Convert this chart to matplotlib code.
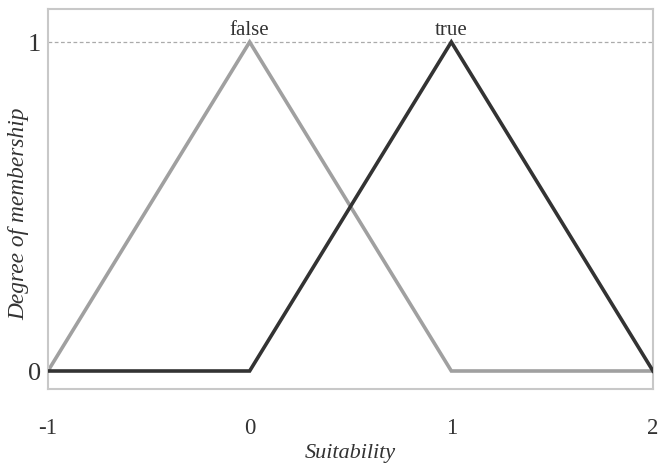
import matplotlib.pyplot as plt

# membership functions (x breakpoints, degree)
x_false = [-1, 0, 1, 2]
y_false = [0, 1, 0, 0]
x_true = [-1, 0, 1, 2]
y_true = [0, 0, 1, 0]
x_ticks = [-1, 0, 1, 2]
y_ticks = [0, 1]
labels = ['false', 'true']
peaks = [0, 1]


def main():
    plt.rcParams['font.family'] = ['Liberation Serif', 'DejaVu Serif']
    fig = plt.figure(figsize=(6.58, 4.64), dpi=100)
    ax = fig.add_axes([0.0729, 0.1595, 0.9195, 0.819])

    ax.axhline(1, color='#aaaaaa', lw=0.9, ls=(0, (3, 2)), zorder=1)
    ax.plot(x_false, y_false, color='#a0a0a0', lw=2.6, zorder=2,
            solid_joinstyle='miter')
    ax.plot(x_true, y_true, color='#333333', lw=2.6, zorder=3,
            solid_joinstyle='miter')

    for lab, px in zip(labels, peaks):
        ax.annotate(lab, (px, 1), xytext=(0, 2), textcoords='offset points',
                    ha='center', va='bottom', fontsize=15, color='#333333')

    ax.set_xlim(-1, 2)
    ax.set_ylim(-0.0547, 1.1003)
    ax.set_xticks(x_ticks)
    ax.set_xticklabels(['-1', '0', '1', '2'])
    ax.set_yticks(y_ticks)
    ax.tick_params(axis='x', length=0, pad=20, labelsize=16.5, colors='#333333')
    ax.tick_params(axis='y', length=0, pad=5, labelsize=19, colors='#333333')

    for s in ax.spines.values():
        s.set_color('#c8c8c8')
        s.set_linewidth(1.5)

    ax.set_xlabel('Suitability', fontsize=16, style='italic', color='#333333',
                  labelpad=4)
    ax.set_ylabel('Degree of membership', fontsize=16.8, style='italic',
                  color='#333333')
    ax.yaxis.set_label_coords(-0.031, 0.463)

    fig.savefig('out.png', dpi=100)


if __name__ == "__main__":
    main()
